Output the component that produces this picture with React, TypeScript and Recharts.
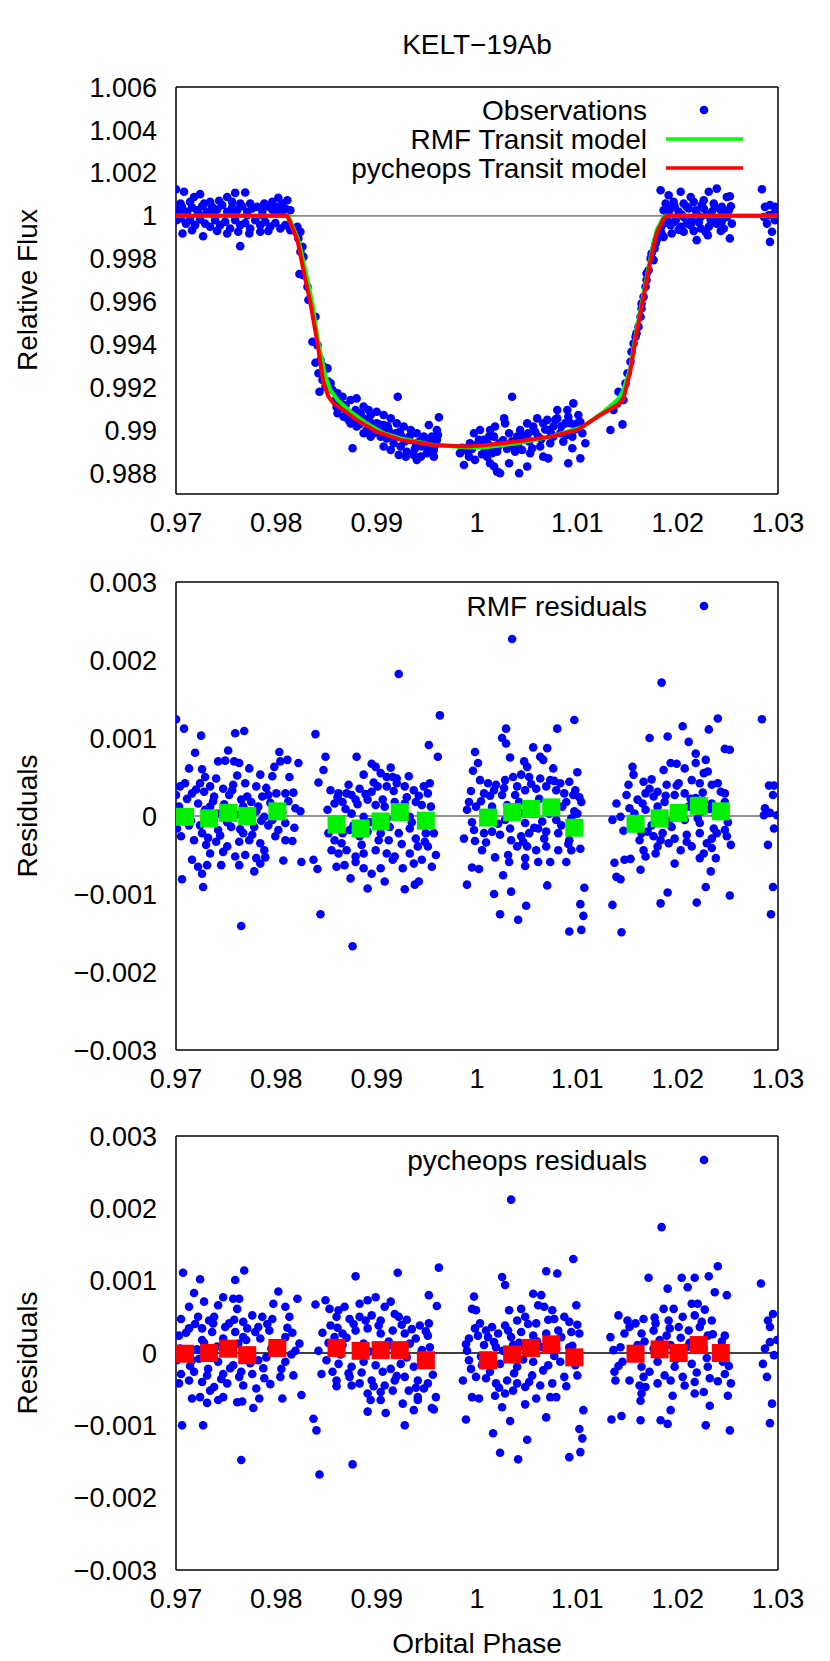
import { ScatterChart, Scatter, XAxis, YAxis, ReferenceLine } from "recharts";

const FONT = "'Liberation Sans', Arial, Helvetica, sans-serif";

// axis ticks
const phaseTicks = [0.97, 0.98, 0.99, 1.0, 1.01, 1.02, 1.03];
const fluxTicks = [0.988, 0.99, 0.992, 0.994, 0.996, 0.998, 1.0, 1.002, 1.004, 1.006];
const residualTicks = [-0.003, -0.002, -0.001, 0, 0.001, 0.002, 0.003];

const PHASE_DOMAIN: [number, number] = [0.97, 1.03];
const FLUX_DOMAIN: [number, number] = [0.98705, 1.006];
const RES_DOMAIN: [number, number] = [-0.003, 0.003];

// observations (phase, relative flux)
const obsOutOfTransitBefore: [number, number][] = [
  [0.97, 1.00124], [0.9708, 1.00112], [0.9724, 1.00101], [0.9759, 1.00107], [0.9769, 1.00109], [0.9802, 1.00084],
  [0.9811, 1.00073], [0.9743, 1.0007], [0.9751, 1.00088], [0.9718, 1.00088], [0.9734, 1.00065], [0.9788, 1.00057],
  [0.9774, 1.00057], [0.97045, 1.00057], [0.9714, 1.00065], [0.9728, 1.00057], [0.9756, 1.00065], [0.9764, 1.00057],
  [0.9796, 1.00065], [0.9806, 1.00057], [0.9701, 1.00026], [0.9706, 1.00042], [0.9711, 1.00019], [0.9716, 1.00039],
  [0.9721, 1.00026], [0.9726, 1.00045], [0.9731, 1.00019], [0.9736, 1.00042], [0.9741, 1.00029], [0.9746, 1.0005],
  [0.9751, 1.00019], [0.9756, 1.00039], [0.9761, 1.00026], [0.9766, 1.00045], [0.9771, 1.00019], [0.9776, 1.00034],
  [0.9781, 1.00042], [0.9786, 1.00023], [0.9791, 1.00045], [0.9796, 1.00029], [0.9801, 1.00042], [0.9806, 1.00019],
  [0.9809, 1.00034], [0.9814, 1.00026], [0.9708, 1.00011], [0.9723, 1.00008], [0.9738, 1.00011], [0.9754, 1.00011],
  [0.9771, 1.00003], [0.9786, 1.00003], [0.9799, 1.00011], [0.97005, 0.9998], [0.9705, 0.99988], [0.971, 0.99964],
  [0.9714, 0.9998], [0.9719, 0.99957], [0.9724, 0.99983], [0.9729, 0.99964], [0.9734, 0.99949], [0.9739, 0.9998],
  [0.9744, 0.99957], [0.9749, 0.99972], [0.9754, 0.99941], [0.9759, 0.9998], [0.9764, 0.99957], [0.9769, 0.99967],
  [0.9774, 0.99941], [0.9779, 0.9998], [0.9784, 0.99957], [0.9789, 0.99972], [0.9794, 0.99949], [0.9799, 0.99967],
  [0.9804, 0.99941], [0.9809, 0.99957], [0.9814, 0.99933], [0.97065, 0.99918], [0.9716, 0.99933], [0.9727, 0.99905],
  [0.9741, 0.9993], [0.9751, 0.99918], [0.9762, 0.99926], [0.9773, 0.99918], [0.9784, 0.99926], [0.9792, 0.9993],
  [0.9764, 0.99859],
];

const obsIngress: [number, number][] = [
  [0.9817, 0.99933], [0.9821, 0.99949], [0.9822, 0.99918], [0.9824, 0.99926], [0.9822, 0.99895], [0.9826, 0.99856],
  [0.9824, 0.99833], [0.9827, 0.99809], [0.9823, 0.99729], [0.9827, 0.99724], [0.9831, 0.9967], [0.9832, 0.99608],
  [0.9839, 0.9953], [0.9836, 0.99414], [0.9841, 0.99398], [0.9839, 0.99316], [0.9844, 0.99329], [0.9847, 0.99298],
  [0.9851, 0.9929], [0.9842, 0.99267], [0.9846, 0.99236], [0.9852, 0.99228], [0.9843, 0.99181], [0.9849, 0.99205],
  [0.9856, 0.99189], [0.9854, 0.9922],
];

const obsInTransit: [number, number][] = [
  [0.9859, 0.99143], [0.9864, 0.99127], [0.9867, 0.99104], [0.9874, 0.99143], [0.9879, 0.99096], [0.988, 0.9915],
  [0.9887, 0.99112], [0.9892, 0.99096], [0.9894, 0.99073], [0.99, 0.99088], [0.9907, 0.99073], [0.9914, 0.99057],
  [0.992, 0.99034], [0.9927, 0.99019], [0.9934, 0.99003], [0.994, 0.98988], [0.9947, 0.98972], [0.9954, 0.98964],
  [0.996, 0.98957], [0.9861, 0.99081], [0.9867, 0.99065], [0.9874, 0.99034], [0.9876, 0.98918], [0.988, 0.99019],
  [0.9885, 0.99042], [0.989, 0.99003], [0.9897, 0.98988], [0.9904, 0.98972], [0.991, 0.98964], [0.9917, 0.98941],
  [0.9924, 0.98926], [0.993, 0.98902], [0.9937, 0.98887], [0.9944, 0.98879], [0.995, 0.98895], [0.9957, 0.98879],
  [0.9955, 0.98972], [0.996, 0.99003], [0.9952, 0.99026], [0.9962, 0.99062], [0.9921, 0.99158], [0.9861, 0.99174],
  [0.9866, 0.99158], [0.9871, 0.99081], [0.9884, 0.99081], [0.9895, 0.99034], [0.9907, 0.99026], [0.9912, 0.99003],
  [0.9919, 0.98988], [0.9925, 0.98972], [0.9932, 0.98957], [0.9939, 0.98941], [0.9945, 0.98926], [0.9952, 0.98918],
  [0.9957, 0.9891], [0.9904, 0.99019], [0.9894, 0.98972], [0.9887, 0.98988], [0.9882, 0.9905], [0.9907, 0.98926],
  [0.9914, 0.9891], [0.9922, 0.98887], [0.9929, 0.98879], [0.994, 0.98864], [0.9887, 0.99057], [0.9877, 0.9905],
  [0.99, 0.99034], [0.9892, 0.9905], [0.986, 0.9911], [0.9869, 0.99118], [0.9872, 0.9905], [0.9878, 0.99068],
  [0.9883, 0.9903], [0.9889, 0.9904], [0.9896, 0.9901], [0.9902, 0.9903], [0.9906, 0.98995], [0.9911, 0.9902],
  [0.9916, 0.98975], [0.9923, 0.98995], [0.9928, 0.9895], [0.9933, 0.98975], [0.9938, 0.98915], [0.9943, 0.9895],
  [0.9949, 0.98935], [0.9953, 0.98945], [0.9958, 0.9893], [0.9961, 0.9898],
  [0.9983, 0.98895], [0.9988, 0.98918], [0.9993, 0.98941], [0.9997, 0.98988], [1.0002, 0.98957], [1.0007, 0.98926],
  [1.0012, 0.98972], [1.0017, 0.9891], [1.0022, 0.98941], [0.9987, 0.9884], [0.9998, 0.98864], [1.0013, 0.98848],
  [1.002, 0.98809], [1.0003, 0.99003], [1.001, 0.98902], [1.0018, 0.99019], [0.9992, 0.98879], [1.0003, 0.98941],
  [1.0007, 0.98957], [1.0012, 0.98933], [1.0017, 0.98972], [1.0023, 0.98941], [1.0028, 0.99034], [1.0032, 0.98988],
  [1.0035, 0.99158], [1.004, 0.98972], [1.0043, 0.99003], [1.0047, 0.98957], [1.0051, 0.98988], [1.0056, 0.99019],
  [1.0061, 0.98972], [1.0066, 0.99034], [1.0071, 0.99003], [1.0076, 0.99019], [1.008, 0.99096], [1.0083, 0.98988],
  [1.0088, 0.99034], [1.0091, 0.99065], [1.0096, 0.99127], [1.01, 0.99034], [1.0105, 0.98988], [1.0108, 0.98941],
  [1.0103, 0.98871], [1.0017, 0.98833], [1.0023, 0.98802], [1.0042, 0.98802], [1.005, 0.98833], [1.0032, 0.98848],
  [1.0071, 0.98871], [1.0091, 0.98848], [1.001, 0.98879], [1.002, 0.98902], [1.0038, 0.98902], [1.0055, 0.98918],
  [1.0063, 0.98926], [1.0073, 0.98941], [1.0086, 0.98949], [1.0095, 0.98972], [1.0013, 0.99003], [1.0027, 0.99057],
  [1.005, 0.99034], [1.006, 0.99057], [1.007, 0.9905], [1.008, 0.99057], [1.009, 0.99096], [1.0101, 0.99073],
  [1.0076, 0.98972], [1.0053, 0.98895], [1.0066, 0.98879], [1.0045, 0.9891], [1.0037, 0.98926], [1.0095, 0.98918],
  [0.9985, 0.9892], [0.999, 0.98905], [0.9995, 0.98915], [1.0, 0.98935], [1.0005, 0.9889], [1.0009, 0.98935],
  [1.0015, 0.98895], [1.0021, 0.98925], [1.0026, 0.98955], [1.003, 0.98915], [1.0035, 0.9895], [1.0041, 0.9893],
  [1.0046, 0.98975], [1.0052, 0.9895], [1.0058, 0.98995], [1.0064, 0.9896], [1.0068, 0.99005], [1.0074, 0.98985],
  [1.0078, 0.9905], [1.0084, 0.9902], [1.0089, 0.9898], [1.0093, 0.99035], [1.0098, 0.99005], [1.0103, 0.9904],
];

const obsEgress: [number, number][] = [
  [1.0133, 0.99003], [1.0145, 0.99029], [1.0136, 0.99096], [1.014, 0.99127], [1.0146, 0.99143], [1.0141, 0.99181],
  [1.0148, 0.9922], [1.015, 0.99267], [1.0153, 0.99321], [1.0154, 0.99367], [1.0156, 0.99406], [1.0158, 0.99437],
  [1.0161, 0.99484], [1.0163, 0.9953], [1.0164, 0.99569], [1.0166, 0.99623], [1.0168, 0.9967], [1.0169, 0.99701],
  [1.0171, 0.99747], [1.0173, 0.99802], [1.0174, 0.99825], [1.0177, 0.99848], [1.0179, 0.99887], [1.0181, 0.9991],
  [1.0183, 0.99941], [1.0186, 0.99964], [1.0189, 0.99988], [1.0159, 0.99453], [1.0164, 0.99592], [1.0169, 0.99732],
  [1.0176, 0.99794], [1.0178, 0.99871], [1.0184, 0.99918],
];

const obsOutOfTransitAfter: [number, number][] = [
  [1.0183, 1.00119], [1.0191, 1.00096], [1.0203, 1.00112], [1.0213, 1.00088], [1.0231, 1.00112], [1.0239, 1.00127],
  [1.0249, 1.00088], [1.0252, 1.00091], [1.0188, 1.00057], [1.0196, 1.00065], [1.0206, 1.00057], [1.0216, 1.00065],
  [1.0226, 1.00073], [1.0236, 1.00057], [1.0244, 1.00042], [1.0186, 1.00026], [1.0193, 1.00034], [1.0201, 1.00019],
  [1.0209, 1.00042], [1.0218, 1.00026], [1.0226, 1.00034], [1.0234, 1.00019], [1.0243, 1.00026], [1.0251, 1.00026],
  [1.0189, 0.99995], [1.0198, 0.9998], [1.0206, 0.99995], [1.0214, 0.9998], [1.0223, 0.99995], [1.0233, 0.9998],
  [1.0241, 0.99988], [1.0249, 0.99995], [1.0254, 0.99964], [1.0193, 0.99957], [1.0203, 0.99949], [1.0213, 0.99957],
  [1.0223, 0.99941], [1.0231, 0.99949], [1.0239, 0.99964], [1.0246, 0.99941], [1.0194, 0.99918], [1.0219, 0.99887],
  [1.023, 0.9991], [1.0252, 0.99895], [1.0206, 0.99926], [1.0186, 0.99902], [1.0191, 1.0001], [1.0197, 1.00045],
  [1.0204, 1.00005], [1.0211, 1.00035], [1.0219, 1.00008], [1.0224, 1.0005], [1.0229, 1.00005], [1.0237, 1.00038],
  [1.0247, 1.00008], [1.0253, 1.00045], [1.0196, 0.9997], [1.0209, 0.99965], [1.0221, 0.9997], [1.0236, 0.99968],
  [1.0244, 0.99975], [1.0201, 0.99935], [1.0216, 0.9993], [1.0228, 0.99925], [1.0243, 0.9993],
  [1.0284, 1.00124], [1.0287, 1.00042], [1.0292, 1.0005], [1.0297, 1.00042], [1.0286, 0.99995], [1.0291, 1.00003],
  [1.0296, 1.00011], [1.0299, 1.0], [1.0289, 0.99964], [1.0294, 0.99926], [1.0292, 0.99879], [1.0297, 0.9998],
];

// transit models (phase, relative flux)
const rmfModel: [number, number][] = [
  [0.97, 1.0], [0.9812, 1.0], [0.9822, 0.99887], [0.9829, 0.99747], [0.9836, 0.99592], [0.9842, 0.99406],
  [0.9849, 0.99251], [0.9854, 0.99189], [0.9861, 0.99143], [0.9874, 0.99088], [0.989, 0.99034], [0.9907, 0.98988],
  [0.9924, 0.98964], [0.9957, 0.98933], [0.999, 0.98921], [1.0007, 0.98922], [1.004, 0.98941], [1.0073, 0.98972],
  [1.0106, 0.99019], [1.0126, 0.99088], [1.014, 0.99143], [1.0146, 0.99189], [1.0153, 0.99298], [1.0159, 0.99468],
  [1.0166, 0.99639], [1.0173, 0.99809], [1.0179, 0.99933], [1.0186, 0.99995], [1.0188, 1.0], [1.03, 1.0],
];

const pycheopsModel: [number, number][] = [
  [0.97, 1.0], [0.9811, 1.0], [0.9821, 0.99887], [0.9827, 0.99747], [0.9834, 0.99592], [0.9841, 0.99406],
  [0.9847, 0.9922], [0.9852, 0.99158], [0.9857, 0.99127], [0.9867, 0.99096], [0.988, 0.9905], [0.99, 0.98995],
  [0.9924, 0.98957], [0.9957, 0.98933], [0.999, 0.98926], [1.0007, 0.98932], [1.004, 0.98949], [1.0073, 0.98972],
  [1.01, 0.99003], [1.0123, 0.99073], [1.014, 0.99119], [1.0146, 0.9915], [1.0153, 0.99282], [1.0159, 0.99453],
  [1.0166, 0.99623], [1.0173, 0.99794], [1.0179, 0.99918], [1.0186, 0.99988], [1.0189, 1.0], [1.03, 1.0],
];

// residuals (phase, residual)
const rmfResiduals: [number, number][] = [
  [0.97, 0.00124], [0.9708, 0.00112], [0.9725, 0.00103], [0.9759, 0.00106], [0.9768, 0.00109], [0.9719, 0.00081],
  [0.9752, 0.00084], [0.9803, 0.00082], [0.9839, 0.00105], [0.9713, 0.00061], [0.9726, 0.0006], [0.9742, 0.0007],
  [0.9749, 0.00071], [0.9758, 0.0007], [0.9763, 0.00068], [0.9773, 0.00061], [0.9784, 0.00053], [0.9798, 0.00063],
  [0.9804, 0.0007], [0.9811, 0.00072], [0.9822, 0.00068], [0.9813, 0.0005], [0.9796, 0.00051], [0.9761, 0.00052],
  [0.974, 0.00048], [0.9729, 0.0005], [0.9709, 0.00042], [0.9704, 0.00038], [0.9724, 0.00042], [0.9734, 0.00038],
  [0.9747, 0.00035], [0.9757, 0.0004], [0.9769, 0.00042], [0.978, 0.00038], [0.9792, 0.00027], [0.98, 0.00029],
  [0.9809, 0.00029], [0.9817, 0.0003], [0.97, 0.00027], [0.9716, 0.00029], [0.9728, 0.00031], [0.9738, 0.00025],
  [0.9753, 0.00027], [0.9765, 0.00021], [0.9775, 0.00018], [0.9786, 0.00025], [0.9819, 0.0001], [0.9824, 0.00006],
  [0.9703, 0.00012], [0.9722, 0.00016], [0.9734, 0.00012], [0.9767, 0.00012], [0.978, 0.00006], [0.9788, -0.00001],
  [0.9796, -0.00005], [0.9809, -0.00009], [0.9701, -0.00016], [0.9713, -0.00012], [0.9726, -0.00022], [0.9742, -0.00018],
  [0.9755, -0.00014], [0.9767, -0.00022], [0.9778, -0.00014], [0.9792, -0.00012], [0.9802, -0.00018], [0.9809, -0.00031],
  [0.9816, -0.00032], [0.9705, -0.00026], [0.9718, -0.00031], [0.973, -0.00037], [0.974, -0.00033], [0.9751, -0.00039],
  [0.9763, -0.00033], [0.9773, -0.00031], [0.9784, -0.00035], [0.9788, -0.00044], [0.9734, -0.00048], [0.9747, -0.00046],
  [0.9759, -0.00052], [0.9769, -0.0005], [0.978, -0.00054], [0.9716, -0.00056], [0.9722, -0.00065], [0.9726, -0.00074],
  [0.9745, -0.00063], [0.9731, -0.00063], [0.9763, -0.00063], [0.9778, -0.00071], [0.9784, -0.00061], [0.9789, -0.00053],
  [0.9807, -0.00057], [0.9825, -0.00059], [0.9706, -0.00081], [0.9727, -0.00091], [0.9837, -0.00056], [0.9841, -0.00068],
  [0.9844, -0.00126], [0.9765, -0.00141], [0.9876, -0.00167],
  [0.9707, 0.00005], [0.9711, 0.00022], [0.9715, -0.00006], [0.972, 0.00034], [0.9724, -0.00012], [0.9729, 0.00008],
  [0.9732, -0.00028], [0.9737, 0.00019], [0.9741, 0.00003], [0.9744, -0.00025], [0.9748, 0.00015], [0.9751, -0.00008],
  [0.9756, 0.00033], [0.976, 0.00002], [0.9764, -0.00017], [0.9771, 0.00025], [0.9776, -0.00024], [0.9782, 0.00012],
  [0.9785, -0.00006], [0.979, 0.00036], [0.9794, 0.00017], [0.9799, -0.00026], [0.9806, 0.00004], [0.9812, 0.00019],
  [0.9818, -0.00015],
  [0.9922, 0.00182], [0.9963, 0.00129], [0.9952, 0.00091], [0.9961, 0.00076], [0.988, 0.00076], [0.9849, 0.00076],
  [0.9847, 0.00059], [0.9842, 0.00043], [0.9895, 0.00067], [0.9899, 0.00063], [0.9904, 0.00055], [0.9914, 0.00062],
  [0.9932, 0.00051], [0.9887, 0.00053], [0.991, 0.0005], [0.9916, 0.0005], [0.992, 0.00048], [0.9854, 0.00033],
  [0.9862, 0.00029], [0.987, 0.00029], [0.9875, 0.00027], [0.9883, 0.00035], [0.9895, 0.00031], [0.9901, 0.00038],
  [0.991, 0.00038], [0.992, 0.00042], [0.9928, 0.00038], [0.9937, 0.00033], [0.9947, 0.00038], [0.9953, 0.00042],
  [0.9858, 0.00016], [0.9866, 0.00018], [0.9879, 0.00021], [0.9891, 0.00021], [0.9899, 0.00014], [0.9908, 0.00012],
  [0.9918, 0.00018], [0.9928, 0.00016], [0.9939, 0.00018], [0.9945, 0.00014], [0.9951, 0.00029], [0.9875, 0.00003],
  [0.9887, -0.00001], [0.991, -0.00003], [0.9933, -0.00001], [0.9945, -0.00001], [0.9852, -0.00022], [0.9858, -0.00031],
  [0.9866, -0.00022], [0.9873, -0.00018], [0.9883, -0.00026], [0.9891, -0.0002], [0.9904, -0.00022], [0.9912, -0.00031],
  [0.9922, -0.00022], [0.9933, -0.00016], [0.9939, -0.00029], [0.9949, -0.00022], [0.9957, -0.00022], [0.9855, -0.00044],
  [0.9862, -0.00048], [0.987, -0.00044], [0.9879, -0.00052], [0.9887, -0.00048], [0.9899, -0.00044], [0.991, -0.00048],
  [0.9918, -0.00052], [0.9933, -0.00048], [0.9941, -0.00039], [0.9951, -0.00039], [0.986, -0.00065], [0.9868, -0.00063],
  [0.9879, -0.00059], [0.9887, -0.00067], [0.9895, -0.00074], [0.9904, -0.00067], [0.9916, -0.00056], [0.9926, -0.00067],
  [0.9937, -0.00061], [0.9945, -0.00056], [0.9955, -0.00065], [0.9959, -0.0005], [0.9874, -0.0008], [0.9891, -0.00093],
  [0.9908, -0.00084], [0.9928, -0.00094], [0.9938, -0.00088], [0.9942, -0.00084],
  [0.9851, 0.00008], [0.9856, -0.0001], [0.9861, 0.00024], [0.9865, -0.00035], [0.9869, 0.00009], [0.9872, 0.0004],
  [0.9877, -0.00012], [0.9881, 0.00015], [0.9885, -0.00037], [0.9889, 0.00028], [0.9893, -0.00008], [0.9897, 0.00043],
  [0.9902, -0.00031], [0.9906, 0.00021], [0.9913, -0.00014], [0.9917, 0.00032], [0.9921, 0.00002], [0.9925, -0.00036],
  [0.993, 0.00024], [0.9935, -0.00008], [0.9942, 0.00026], [0.9948, -0.00033], [0.9954, 0.00012],
  [1.0035, 0.00227], [1.0097, 0.00123], [1.008, 0.00112], [1.0029, 0.00112], [1.0025, 0.001], [1.0029, 0.00093],
  [1.0033, 0.00075], [1.0056, 0.00088], [1.007, 0.00087], [1.0063, 0.00076], [1.0066, 0.00072], [1.0076, 0.00061],
  [1.01, 0.00056], [1.0047, 0.0007], [1.005, 0.00063], [0.9998, 0.00082], [1.0001, 0.00068], [0.9996, 0.00058],
  [1.0003, 0.00046], [1.0011, 0.00042], [1.0019, 0.0004], [1.0028, 0.00046], [1.0036, 0.0005], [1.0044, 0.00053],
  [1.0052, 0.0005], [1.0063, 0.00048], [1.0073, 0.00046], [1.0083, 0.00042], [1.0092, 0.00044], [1.0098, 0.00033],
  [1.0104, 0.00018], [0.9992, 0.00018], [1.0007, 0.00029], [1.0017, 0.00033], [1.0025, 0.00027], [1.004, 0.00038],
  [1.0048, 0.00033], [1.0059, 0.00035], [1.0069, 0.00038], [1.0079, 0.00033], [1.0087, 0.00029], [1.0096, 0.00027],
  [0.9999, 0.00012], [1.0015, 0.00012], [1.003, 0.00014], [1.0042, 0.00018], [1.0056, 0.00012], [1.0071, 0.00014],
  [1.0085, 0.00012], [1.01, 0.00003], [0.9995, -0.00008], [1.0011, -0.00005], [1.0028, -0.00005], [1.0048, -0.00009],
  [1.0065, -0.00007], [1.0079, -0.00005], [1.0094, -0.00003], [0.9987, -0.00029], [0.9998, -0.00032], [1.0007, -0.00022],
  [1.0015, -0.0002], [1.0023, -0.00024], [1.0034, -0.00031], [1.0044, -0.00026], [1.0052, -0.00022], [1.0061, -0.00016],
  [1.0069, -0.0002], [1.0081, -0.00022], [1.0092, -0.00031], [1.0103, -0.00042], [1.0005, -0.00044], [1.0018, -0.00053],
  [1.0031, -0.0005], [1.004, -0.00039], [1.005, -0.00039], [1.0059, -0.00044], [1.0069, -0.00039], [1.0081, -0.00044],
  [1.0094, -0.00044], [1.0032, -0.00059], [1.0048, -0.00054], [1.0048, -0.00064], [1.0061, -0.00059], [1.0073, -0.00059],
  [1.0089, -0.00059], [0.9995, -0.00066], [1.0002, -0.00068], [0.999, -0.00088], [1.0017, -0.001], [1.0026, -0.00076],
  [1.0034, -0.00097], [1.007, -0.00089], [1.0107, -0.00092], [1.0103, -0.00113], [1.0023, -0.00126], [1.0049, -0.00115],
  [1.0041, -0.00133], [1.0106, -0.00128], [1.0092, -0.00148], [1.0104, -0.00146],
  [0.999, 0.00008], [0.9994, 0.00032], [0.9997, -0.00018], [1.0004, 0.00019], [1.0009, -0.00034], [1.0013, 0.00026],
  [1.0021, -0.0001], [1.0027, 0.00036], [1.0033, -0.00016], [1.0038, 0.00027], [1.0043, 0.00004], [1.0046, -0.00033],
  [1.0054, 0.00041], [1.0057, -0.00015], [1.0062, 0.00022], [1.0067, -0.00029], [1.0072, 0.00003], [1.0077, 0.00045],
  [1.0084, -0.00012], [1.0089, 0.00018], [1.0091, -0.00036], [1.0097, 0.00006], [1.0102, 0.00024],
  [1.0135, -0.00114], [1.0184, 0.00171], [1.024, 0.00125], [1.0205, 0.00115], [1.019, 0.00102], [1.0172, 0.001],
  [1.0231, 0.00111], [1.0211, 0.00095], [1.0247, 0.00086], [1.0252, 0.00085], [1.0218, 0.0008], [1.0228, 0.00072],
  [1.0155, 0.00063], [1.0186, 0.00059], [1.0193, 0.00068], [1.0199, 0.00067], [1.0207, 0.00061], [1.0218, 0.00068],
  [1.0226, 0.00055], [1.023, 0.00057], [1.0156, 0.00053], [1.0166, 0.00044], [1.0172, 0.00035], [1.018, 0.00031],
  [1.0189, 0.0004], [1.0201, 0.00042], [1.0214, 0.00046], [1.0222, 0.00042], [1.0234, 0.0004], [1.024, 0.00042],
  [1.0149, 0.00027], [1.016, 0.00021], [1.0168, 0.00029], [1.0176, 0.00025], [1.0187, 0.00018], [1.0197, 0.00027],
  [1.0207, 0.00029], [1.0218, 0.00023], [1.0226, 0.00018], [1.0234, 0.00016], [1.0247, 0.00029], [1.0247, 0.00018],
  [1.0152, 0.0001], [1.0168, 0.00008], [1.018, 0.00012], [1.0197, 0.00008], [1.0211, 0.00012], [1.0224, 0.00006],
  [1.0238, 0.00001], [1.0135, -0.00005], [1.0143, -0.00001], [1.0158, -0.00009], [1.0174, -0.00012], [1.0191, -0.00007],
  [1.0207, -0.00005], [1.0222, -0.00009], [1.0236, -0.00016], [1.0247, -0.00018], [1.0164, -0.00022], [1.0176, -0.00026],
  [1.0185, -0.00022], [1.0197, -0.00029], [1.0209, -0.00024], [1.0222, -0.00022], [1.0234, -0.00029], [1.0249, -0.00026],
  [1.0253, -0.00037], [1.0166, -0.00044], [1.018, -0.00039], [1.0191, -0.00035], [1.0203, -0.00044], [1.0214, -0.00039],
  [1.0226, -0.00048], [1.0238, -0.00054], [1.0168, -0.00052], [1.0178, -0.00048], [1.0197, -0.00061], [1.0222, -0.00054],
  [1.0234, -0.00041], [1.0137, -0.0006], [1.0147, -0.00056], [1.0153, -0.00055], [1.0163, -0.00069], [1.0139, -0.00078],
  [1.0143, -0.00081], [1.019, -0.00098], [1.0183, -0.00112], [1.0219, -0.00111], [1.0228, -0.00091], [1.0233, -0.00071],
  [1.0252, -0.00102], [1.0144, -0.00149],
  [1.0139, 0.00016], [1.0146, -0.00019], [1.0151, 0.0004], [1.0157, 0.00003], [1.0162, -0.00031], [1.0165, 0.00016],
  [1.017, -0.0002], [1.0174, 0.00047], [1.0178, 0.00003], [1.0183, -0.00031], [1.0188, 0.00026], [1.0194, -0.00014],
  [1.0199, 0.00039], [1.0203, 0.00001], [1.0209, -0.00033], [1.0213, 0.00022], [1.022, -0.00003], [1.0225, 0.0003],
  [1.0229, -0.00035], [1.0232, 0.00009], [1.0239, -0.00022], [1.0243, 0.00031], [1.025, -0.00008],
  [1.0284, 0.00124], [1.0291, 0.00039], [1.0296, 0.00039], [1.0295, 0.00027], [1.0287, 0.0001], [1.0292, 0.00004],
  [1.0299, 0.00001], [1.0286, 0.00001], [1.0296, -0.00016], [1.029, -0.00037], [1.0295, -0.00091], [1.0293, -0.00126],
];

const pycheopsResiduals: [number, number][] = [
  [0.9707, 0.00111], [0.9724, 0.00102], [0.9759, 0.00101], [0.9768, 0.00114], [0.9718, 0.00083], [0.9747, 0.00077],
  [0.9757, 0.00075], [0.9763, 0.00075], [0.9802, 0.00085], [0.9821, 0.00075], [0.9713, 0.00064], [0.9728, 0.00071],
  [0.9742, 0.00066], [0.9761, 0.00061], [0.9797, 0.00068], [0.9809, 0.00064], [0.9705, 0.00047], [0.9722, 0.0005],
  [0.9733, 0.00045], [0.9738, 0.0005], [0.9753, 0.00041], [0.9767, 0.00043], [0.9776, 0.00052], [0.9786, 0.0005],
  [0.9796, 0.00047], [0.9813, 0.0005], [0.9713, 0.00034], [0.9726, 0.00034], [0.9736, 0.00029], [0.9749, 0.00036],
  [0.9759, 0.00029], [0.9771, 0.00034], [0.9782, 0.00036], [0.9793, 0.00031], [0.9816, 0.00028], [0.9703, 0.00024],
  [0.9726, 0.00018], [0.9747, 0.0002], [0.9767, 0.00022], [0.9784, 0.0002], [0.9809, 0.00022], [0.9823, 0.00013],
  [0.9721, 0.00005], [0.9735, -0.00003], [0.9752, 0.00008], [0.9771, -0.00004], [0.9795, 0.00006], [0.9815, -0.00002],
  [0.9701, -0.0001], [0.9716, -0.0001], [0.9742, -0.00012], [0.9757, -0.00017], [0.9782, -0.0001], [0.979, -0.00006],
  [0.9809, -0.00012], [0.9705, -0.00029], [0.9718, -0.00026], [0.9731, -0.00031], [0.9747, -0.00029], [0.9763, -0.00033],
  [0.9776, -0.00029], [0.9788, -0.00035], [0.9804, -0.00033], [0.9817, -0.00031], [0.9703, -0.00042], [0.9713, -0.00038],
  [0.9726, -0.0004], [0.9738, -0.00047], [0.9751, -0.00042], [0.9767, -0.00045], [0.978, -0.00049], [0.9734, -0.00052],
  [0.9716, -0.00063], [0.9724, -0.00061], [0.9731, -0.00069], [0.9742, -0.00065], [0.9747, -0.00061], [0.9761, -0.00068],
  [0.9766, -0.00067], [0.9777, -0.00076], [0.9783, -0.00063], [0.9806, -0.00063], [0.9825, -0.00058], [0.9706, -0.001],
  [0.9727, -0.001], [0.9765, -0.00148], [0.9837, -0.00091], [0.984, -0.00107], [0.9843, -0.00168], [0.9876, -0.00154],
  [0.9839, 0.00067], [0.9842, 0.00003], [0.9845, -0.00029],
  [0.9704, 0.00006], [0.971, 0.00028], [0.9714, -0.00018], [0.9719, 0.0004], [0.9723, -0.00008], [0.9728, 0.00014],
  [0.9732, -0.00022], [0.9737, 0.00041], [0.9741, 0.00009], [0.9745, -0.00036], [0.9749, 0.00012], [0.9754, -0.00021],
  [0.9758, 0.00046], [0.9762, 0.00013], [0.9765, -0.00026], [0.977, 0.00018], [0.9774, -0.00014], [0.9779, 0.00029],
  [0.9787, -0.00021], [0.9791, 0.0004], [0.9794, -0.00043], [0.98, 0.00012], [0.9805, -0.00022], [0.9811, 0.00035],
  [0.9819, 0.00003],
  [0.9879, 0.00106], [0.9921, 0.00111], [0.9962, 0.00118], [0.9952, 0.0008], [0.996, 0.00065], [0.9849, 0.00073],
  [0.9853, 0.00061], [0.9862, 0.00059], [0.9868, 0.00064], [0.9883, 0.00068], [0.9891, 0.00073], [0.9899, 0.00077],
  [0.9908, 0.00064], [0.9914, 0.00071], [0.9918, 0.00054], [0.993, 0.00046], [0.9854, 0.00038], [0.986, 0.0005],
  [0.9873, 0.00047], [0.9883, 0.0005], [0.9895, 0.00052], [0.9904, 0.00045], [0.9922, 0.0005], [0.9943, 0.00038],
  [0.9952, 0.00041], [0.9846, 0.00028], [0.9858, 0.00022], [0.9866, 0.00027], [0.9879, 0.00031], [0.9891, 0.00034],
  [0.9904, 0.00027], [0.9916, 0.00031], [0.9928, 0.00027], [0.9939, 0.0002], [0.9951, 0.00024], [0.9866, 0.00011],
  [0.9887, 0.00013], [0.991, 0.00008], [0.9933, 0.00013], [0.9953, 0.00008], [0.985, -0.0001], [0.9862, -0.00015],
  [0.9875, -0.00019], [0.9887, -0.00012], [0.9899, -0.00017], [0.9914, -0.00022], [0.9924, -0.00015], [0.9937, -0.00019],
  [0.9949, -0.00012], [0.986, -0.00038], [0.9873, -0.00033], [0.9883, -0.00042], [0.9895, -0.00038], [0.9908, -0.00045],
  [0.9918, -0.00038], [0.9928, -0.00033], [0.9941, -0.00038], [0.9951, -0.00042], [0.986, -0.00046], [0.9875, -0.00045],
  [0.9891, -0.00056], [0.9904, -0.00054], [0.9916, -0.00052], [0.9932, -0.00052], [0.9941, -0.00061], [0.9947, -0.00049],
  [0.9894, -0.00065], [0.9904, -0.00065], [0.9926, -0.0007], [0.9937, -0.00079], [0.9941, -0.00065], [0.9959, -0.00061],
  [0.9955, -0.00076], [0.9891, -0.00081], [0.9909, -0.00083], [0.9928, -0.001], [0.9957, -0.00078],
  [0.9852, 0.00014], [0.9856, -0.00026], [0.9861, 0.00035], [0.9864, -0.00002], [0.987, 0.00021], [0.9872, -0.00028],
  [0.9877, 0.0004], [0.9881, 0.00005], [0.9885, -0.00027], [0.9889, 0.00045], [0.9893, 0.00002], [0.9897, -0.00046],
  [0.9902, 0.00038], [0.9906, -0.00026], [0.9912, 0.00016], [0.992, -0.00032], [0.9925, 0.00039], [0.993, -0.00006],
  [0.9935, 0.00033], [0.9939, -0.00048], [0.9945, 0.00004], [0.9949, 0.0003], [0.9956, -0.0003],
  [1.0034, 0.00212], [1.0096, 0.0013], [1.0025, 0.00105], [1.0028, 0.00094], [1.0069, 0.00113], [1.008, 0.0011],
  [0.9997, 0.00078], [1.0056, 0.00082], [1.0064, 0.0008], [1.0099, 0.00066], [0.9995, 0.00061], [0.9999, 0.00059],
  [1.0032, 0.00059], [1.0044, 0.00061], [1.0061, 0.00066], [1.0067, 0.00064], [1.0075, 0.00059], [1.0003, 0.00041],
  [1.0015, 0.00036], [1.0028, 0.00038], [1.004, 0.00045], [1.0048, 0.0005], [1.0059, 0.00041], [1.0077, 0.00047],
  [1.0087, 0.0005], [1.0092, 0.00043], [0.9992, 0.0002], [1.0001, 0.00024], [1.0011, 0.00022], [1.0021, 0.00027],
  [1.0034, 0.00022], [1.0044, 0.00029], [1.0056, 0.00024], [1.0069, 0.00027], [1.0081, 0.00031], [1.0094, 0.00029],
  [1.0102, 0.00027], [0.999, 0.00003], [1.0007, 0.00011], [1.0019, 0.00008], [1.0036, 0.00011], [1.0048, 0.00006],
  [1.0065, 0.00008], [1.0079, 0.00006], [1.0092, 0.00008], [0.9992, -0.0001], [1.0005, -0.00017], [1.0023, -0.00015],
  [1.004, -0.00019], [1.0056, -0.00012], [1.0071, -0.00017], [1.0083, -0.00012], [1.0098, -0.00017], [0.9986, -0.00038],
  [0.9999, -0.00033], [1.0009, -0.00035], [1.0019, -0.00042], [1.003, -0.00038], [1.004, -0.00042], [1.0052, -0.0004],
  [1.0063, -0.00045], [1.0075, -0.00042], [1.0087, -0.00033], [1.01, -0.00031], [0.9995, -0.00061], [1.0002, -0.00063],
  [1.0018, -0.00059], [1.0028, -0.00056], [1.0036, -0.00052], [1.0048, -0.00047], [1.0059, -0.00063], [1.0073, -0.00061],
  [1.0079, -0.00061], [1.0025, -0.00075], [1.0048, -0.00071], [1.0106, -0.00079], [0.9989, -0.00092], [1.0033, -0.00094],
  [1.0069, -0.00089], [1.0102, -0.00105], [1.0016, -0.00111], [1.005, -0.0012], [1.0105, -0.00118], [1.0023, -0.00138],
  [1.0041, -0.00147], [1.0092, -0.00144], [1.0103, -0.00137],
  [0.9989, 0.00012], [0.9994, -0.00022], [0.9998, 0.00034], [1.0004, -0.00005], [1.0009, 0.00031], [1.0013, -0.00026],
  [1.0017, 0.00015], [1.0022, -0.00048], [1.0026, 0.00003], [1.0031, 0.00031], [1.0037, -0.00028], [1.0042, 0.00014],
  [1.0046, -0.00009], [1.0051, 0.0004], [1.0055, -0.00031], [1.006, 0.00016], [1.0066, -0.00024], [1.0071, 0.00046],
  [1.0077, -0.00004], [1.0084, 0.00022], [1.0089, -0.00046], [1.0095, 0.0001], [1.01, 0.00039],
  [1.0184, 0.00174], [1.024, 0.0012], [1.0171, 0.00104], [1.0204, 0.00104], [1.0217, 0.00104], [1.0231, 0.00106],
  [1.019, 0.00089], [1.021, 0.00091], [1.0237, 0.00084], [1.0249, 0.0008], [1.0186, 0.00061], [1.0196, 0.00061],
  [1.0214, 0.00068], [1.022, 0.00068], [1.0227, 0.0006], [1.0141, 0.00052], [1.015, 0.00045], [1.0166, 0.00047],
  [1.0178, 0.00041], [1.0191, 0.00045], [1.0205, 0.0005], [1.0217, 0.00052], [1.0234, 0.00045], [1.0247, 0.00024],
  [1.0133, 0.00022], [1.0152, 0.00036], [1.0164, 0.00027], [1.0176, 0.00031], [1.0189, 0.00024], [1.0201, 0.00036],
  [1.0211, 0.00031], [1.0222, 0.00036], [1.023, 0.00024], [1.0143, 0.00008], [1.016, 0.00011], [1.0176, 0.00006],
  [1.0193, 0.00011], [1.0209, 0.00008], [1.0226, 0.00006], [1.0145, -0.00012], [1.0164, -0.00019], [1.018, -0.00012],
  [1.0197, -0.00019], [1.0214, -0.00015], [1.023, -0.00019], [1.0245, -0.00012], [1.0137, -0.00026], [1.0152, -0.00038],
  [1.0166, -0.00033], [1.018, -0.00042], [1.0193, -0.00038], [1.0205, -0.00033], [1.0217, -0.0004], [1.0232, -0.00035],
  [1.0247, -0.00029], [1.0253, -0.00042], [1.0138, -0.00038], [1.0164, -0.00056], [1.0168, -0.00047], [1.0195, -0.00059],
  [1.0217, -0.00056], [1.0226, -0.00054], [1.025, -0.00059], [1.0163, -0.00066], [1.0193, -0.00079], [1.0232, -0.00073],
  [1.0134, -0.00092], [1.0144, -0.00087], [1.0163, -0.00093], [1.0183, -0.00093], [1.019, -0.00098], [1.0228, -0.001],
  [1.0252, -0.00107],
  [1.0136, 0.00004], [1.0141, -0.00018], [1.0147, 0.00027], [1.0154, -0.00004], [1.0158, 0.00041], [1.0162, -0.00045],
  [1.0167, 0.00016], [1.0172, -0.00026], [1.0177, 0.00049], [1.0182, 0.00018], [1.0187, -0.00031], [1.0192, 0.00034],
  [1.0198, -0.00009], [1.0203, 0.00021], [1.0207, -0.00045], [1.0212, 0.00014], [1.0219, -0.00027], [1.0224, 0.00043],
  [1.0229, -0.00007], [1.0235, 0.00026], [1.024, -0.00039], [1.0244, 0.00016], [1.0251, -0.00018],
  [1.0283, 0.00096], [1.0295, 0.00054], [1.029, 0.00045], [1.0292, 0.00036], [1.0299, 0.00018], [1.0292, 0.00015],
  [1.0287, 0.00006], [1.0296, -0.00003], [1.0285, -0.00015], [1.0289, -0.00033], [1.0294, -0.0007], [1.0292, -0.00097],
];

// binned residuals
const binPhase = [
  0.9709, 0.9733, 0.9752, 0.9771, 0.9801, 0.986, 0.9884, 0.9904, 0.9923, 0.9949,
  1.0011, 1.0035, 1.0054, 1.0074, 1.0097, 1.0158, 1.0182, 1.0201, 1.0221, 1.0243,
];
const rmfBinned = [
  -0.00001, -0.00003, 0.00004, 0, 0.00006, -0.00011, -0.00016, -0.00007, 0.00005, -0.00006,
  -0.00002, 0.00005, 0.00009, 0.00011, -0.00015, -0.0001, -0.00003, 0.00004, 0.00013, 0.00006,
];
const pycheopsBinned = [
  -0.00001, 0, 0.00006, -0.00003, 0.00007, 0.00007, 0.00003, 0.00004, 0.00004, -0.0001,
  -0.0001, -0.00002, 0.00007, 0.00012, -0.00006, -0.00001, 0.00005, 0, 0.00011, 0,
];

const pts = (a: [number, number][]) => a.map(([x, y]) => ({ x, y }));
const observations = pts([
  ...obsOutOfTransitBefore, ...obsIngress, ...obsInTransit, ...obsEgress, ...obsOutOfTransitAfter,
]);
const binned = (vals: number[]) => binPhase.map((x, i) => ({ x, y: vals[i] }));

// minor tick positions
const steps = (lo: number, hi: number, step: number) => {
  const out: number[] = [];
  for (let i = Math.ceil(lo / step - 1e-9); i * step <= hi + 1e-12; i++) out.push(+(i * step).toFixed(6));
  return out;
};
const fluxMinor = steps(FLUX_DOMAIN[0], FLUX_DOMAIN[1], 0.0002);
const resMinor = steps(RES_DOMAIN[0], RES_DOMAIN[1], 0.0001);

const phaseFmt = (v: number) => String(+v.toFixed(2));
const fluxFmt = (v: number) => String(+v.toFixed(3));
const resFmt = (v: number) => (Math.abs(v) < 1e-9 ? "0" : (v < 0 ? "\u2212" : "") + Math.abs(v).toFixed(3));

const tickFont = { fill: "#000", fontSize: 27, fontFamily: FONT };
const border = { stroke: "#000", strokeWidth: 1.5 };
const tickStroke = { stroke: "#000", strokeWidth: 1.2 };

const DOT_R = 4.3;
const BlueDot = (p: any) => <circle cx={p.cx} cy={p.cy} r={DOT_R} fill="#0000ff" />;
const square = (color: string) => (p: any) => (
  <rect x={p.cx - 9} y={p.cy - 9} width={18} height={18} fill={color} />
);
const NoMark = () => <g />;

function frameAxes(yDomain: [number, number], yTicks: number[], yMinor: number[], yFmt: (v: number) => string) {
  const common = { type: "number" as const, allowDataOverflow: true, interval: 0 as const };
  return [
    <XAxis key="xb" xAxisId="x" dataKey="x" domain={PHASE_DOMAIN} ticks={phaseTicks} tickFormatter={phaseFmt}
      tick={tickFont} tickLine={false} tickSize={0} tickMargin={19} height={40} axisLine={border} {...common} />,
    <XAxis key="xbi" xAxisId="xIn" mirror domain={PHASE_DOMAIN} ticks={phaseTicks} tick={false}
      tickSize={9} tickLine={tickStroke} axisLine={false} {...common} />,
    <XAxis key="xt" xAxisId="xTop" orientation="top" mirror domain={PHASE_DOMAIN} ticks={phaseTicks} tick={false}
      tickSize={9} tickLine={tickStroke} axisLine={border} {...common} />,
    <YAxis key="yl" yAxisId="y" dataKey="y" domain={yDomain} ticks={yTicks} tickFormatter={yFmt}
      tick={tickFont} tickLine={false} tickSize={0} tickMargin={19} width={100} axisLine={border} {...common} />,
    <YAxis key="yli" yAxisId="yIn" mirror domain={yDomain} ticks={yTicks} tick={false}
      tickSize={9} tickLine={tickStroke} axisLine={false} {...common} />,
    <YAxis key="ylm" yAxisId="yMinor" mirror domain={yDomain} ticks={yMinor} tick={false}
      tickSize={4.5} tickLine={tickStroke} axisLine={false} {...common} />,
    <YAxis key="yr" yAxisId="yR" orientation="right" mirror domain={yDomain} ticks={yTicks} tick={false}
      tickSize={9} tickLine={tickStroke} axisLine={border} {...common} />,
    <YAxis key="yrm" yAxisId="yRMinor" orientation="right" mirror domain={yDomain} ticks={yMinor} tick={false}
      tickSize={4.5} tickLine={tickStroke} axisLine={false} {...common} />,
  ];
}

const textProps = { fontFamily: FONT, fontSize: 28, fill: "#000" };

export default function App() {
  return (
    <div style={{ position: "relative", width: 830, height: 1661, background: "#fff" }}>
      <style>{"body{margin:0}"}</style>

      <div style={{ position: "absolute", left: 0, top: 0 }}>
        <ScatterChart width={830} height={560} margin={{ top: 87, right: 52, bottom: 26, left: 76 }}>
          {frameAxes(FLUX_DOMAIN, fluxTicks, fluxMinor, fluxFmt)}
          <ReferenceLine xAxisId="x" yAxisId="y" y={1} stroke="#8c8c8c" strokeWidth={1.6} />
          <Scatter xAxisId="x" yAxisId="y" data={observations} shape={BlueDot} isAnimationActive={false} />
          <Scatter xAxisId="x" yAxisId="y" data={pts(rmfModel)} shape={NoMark}
            line={{ stroke: "#00ff00", strokeWidth: 4 }} isAnimationActive={false} />
          <Scatter xAxisId="x" yAxisId="y" data={pts(pycheopsModel)} shape={NoMark}
            line={{ stroke: "#ff0000", strokeWidth: 4 }} isAnimationActive={false} />
        </ScatterChart>
      </div>

      <div style={{ position: "absolute", left: 0, top: 560 }}>
        <ScatterChart width={830} height={560} margin={{ top: 22, right: 52, bottom: 30, left: 76 }}>
          {frameAxes(RES_DOMAIN, residualTicks, resMinor, resFmt)}
          <Scatter xAxisId="x" yAxisId="y" data={pts(rmfResiduals)} shape={BlueDot} isAnimationActive={false} />
          <Scatter xAxisId="x" yAxisId="y" data={binned(rmfBinned)} shape={square("#00f000")} isAnimationActive={false} />
          <ReferenceLine xAxisId="x" yAxisId="y" y={0} stroke="#707070" strokeWidth={1.6} />
        </ScatterChart>
      </div>

      <div style={{ position: "absolute", left: 0, top: 1120 }}>
        <ScatterChart width={830} height={541} margin={{ top: 16, right: 52, bottom: 51, left: 76 }}>
          {frameAxes(RES_DOMAIN, residualTicks, resMinor, resFmt)}
          <Scatter xAxisId="x" yAxisId="y" data={pts(pycheopsResiduals)} shape={BlueDot} isAnimationActive={false} />
          <Scatter xAxisId="x" yAxisId="y" data={binned(pycheopsBinned)} shape={square("#ff0000")} isAnimationActive={false} />
          <ReferenceLine xAxisId="x" yAxisId="y" y={0} stroke="#000000" strokeWidth={1.5} />
        </ScatterChart>
      </div>

      <svg width={830} height={1661} style={{ position: "absolute", left: 0, top: 0, pointerEvents: "none" }}>
        <text x={477} y={44} dy="0.355em" textAnchor="middle" {...textProps}>KELT−19Ab</text>

        <text transform="translate(27,290) rotate(-90)" dy="0.355em" textAnchor="middle" {...textProps}>Relative Flux</text>
        <text transform="translate(27,816) rotate(-90)" dy="0.355em" textAnchor="middle" {...textProps}>Residuals</text>
        <text transform="translate(27,1353) rotate(-90)" dy="0.355em" textAnchor="middle" {...textProps}>Residuals</text>
        <text x={477} y={1643} dy="0.355em" textAnchor="middle" {...textProps}>Orbital Phase</text>

        <text x={647} y={110} dy="0.355em" textAnchor="end" {...textProps}>Observations</text>
        <circle cx={704} cy={110} r={DOT_R} fill="#0000ff" />
        <text x={647} y={139} dy="0.355em" textAnchor="end" {...textProps}>RMF Transit model</text>
        <line x1={666} x2={743} y1={139} y2={139} stroke="#00ff00" strokeWidth={3.5} />
        <text x={647} y={168} dy="0.355em" textAnchor="end" {...textProps}>pycheops Transit model</text>
        <line x1={666} x2={743} y1={168} y2={168} stroke="#ff0000" strokeWidth={3.5} />

        <text x={647} y={606} dy="0.355em" textAnchor="end" {...textProps}>RMF residuals</text>
        <circle cx={704} cy={606} r={DOT_R} fill="#0000ff" />

        <text x={647} y={1160} dy="0.355em" textAnchor="end" {...textProps}>pycheops residuals</text>
        <circle cx={704} cy={1160} r={DOT_R} fill="#0000ff" />
      </svg>
    </div>
  );
}
